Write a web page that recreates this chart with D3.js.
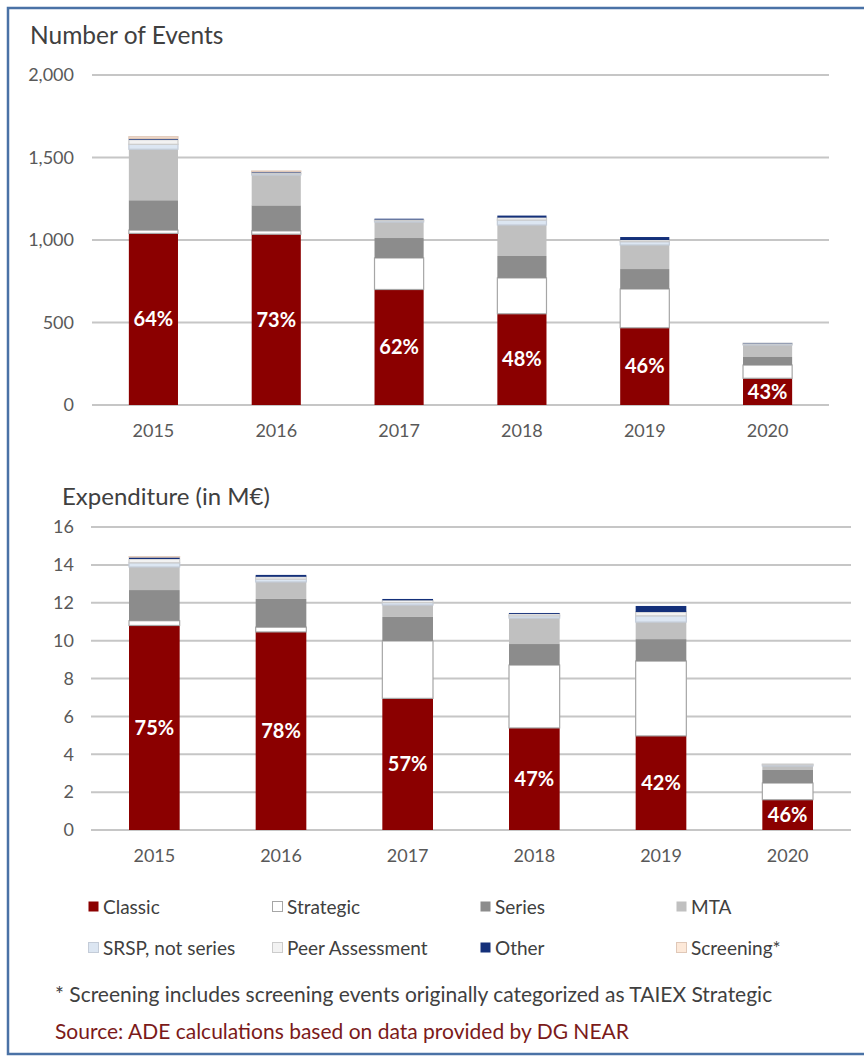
<!DOCTYPE html>
<html>
<head>
<meta charset="utf-8">
<script src="https://cdn.jsdelivr.net/npm/d3@7/dist/d3.min.js"></script>
<style>
    body { margin: 0; background: #fff; }
    svg text { font-family: Lato, "Open Sans", sans-serif; }
</style>
</head>
<body>
<svg id="chart" width="864" height="1059"></svg>
<script>
'use strict';

var years = ['2015', '2016', '2017', '2018', '2019', '2020'];
var seriesNames = ['Classic', 'Strategic', 'Series', 'MTA', 'SRSP, not series', 'Peer Assessment', 'Other', 'Screening*'];

// number of events per category
var evClassic   = [1040, 1035, 700, 553, 468, 162];
var evStrategic = [20, 20, 191, 217, 235, 80];
var evSeries    = [181, 155, 121, 133, 121, 49];
var evMta       = [309, 184, 97, 188, 146, 73];
var evSrsp      = [30, 8, 8, 30, 20, 6];
var evPeer      = [28, 7, 7, 15, 10, 4];
var evOther     = [8, 6, 5, 12, 18, 2];
var evScreening = [10, 3, 0, 0, 0, 0];

// expenditure in M€
var exClassic   = [10.8, 10.46, 6.95, 5.39, 4.97, 1.6];
var exStrategic = [0.25, 0.25, 3.03, 3.32, 3.95, 0.88];
var exSeries    = [1.62, 1.49, 1.27, 1.11, 1.16, 0.69];
var exMta       = [1.22, 0.9, 0.63, 1.37, 0.9, 0.21];
var exSrsp      = [0.22, 0.15, 0.13, 0.12, 0.33, 0.06];
var exPeer      = [0.2, 0.12, 0.12, 0.1, 0.2, 0.04];
var exOther     = [0.1, 0.1, 0.07, 0.05, 0.32, 0];
var exScreening = [0.02, 0, 0, 0, 0, 0];

var evTicks = [0, 500, 1000, 1500, 2000];
var exTicks = [0, 2, 4, 6, 8, 10, 12, 14, 16];

var colors = ['#8b0000', '#ffffff', '#8c8c8c', '#c0c0c0', '#dce6f2', '#f2f2f2', '#14307a', '#fde9d9'];
var strokes = [null, '#a6a6a6', null, null, '#c4ccd8', '#cccccc', null, '#e0c8b8'];

var svg = d3.select('#chart');

function buildRows(cols) {
    var rows = [];
    var i;
    var j;
    for (i = 0; i < years.length; i++) {
        var row = {year: years[i]};
        for (j = 0; j < seriesNames.length; j++) {
            row[seriesNames[j]] = cols[j][i];
        }
        rows.push(row);
    }
    return rows;
}

function drawPanel(opts) {
    var rows = buildRows(opts.cols);
    var stack = d3.stack().keys(seriesNames)(rows);

    var x = d3.scaleBand()
        .domain(years)
        .range([opts.x0, opts.x1])
        .paddingInner(0.6)
        .paddingOuter(0.3);

    var y = d3.scaleLinear()
        .domain([0, opts.max])
        .range([opts.yBottom, opts.yTop]);

    var g = svg.append('g');

    g.append('text')
        .attr('x', opts.titleX)
        .attr('y', opts.titleY)
        .attr('font-size', opts.titleSize)
        .attr('fill', '#404040')
        .text(opts.title);

    // gridlines
    g.selectAll('line.grid')
        .data(opts.ticks)
        .enter()
        .append('line')
        .attr('class', 'grid')
        .attr('x1', opts.x0)
        .attr('x2', opts.x1)
        .attr('y1', function (d) { return y(d); })
        .attr('y2', function (d) { return y(d); })
        .attr('stroke', '#c6c6c6')
        .attr('stroke-width', 2);

    var yAxis = d3.axisLeft(y)
        .tickValues(opts.ticks)
        .tickFormat(opts.fmt)
        .tickSize(0)
        .tickPadding(0);

    g.append('g')
        .attr('transform', 'translate(74,0)')
        .call(yAxis)
        .call(function (a) {
            a.select('.domain').remove();
            a.selectAll('text')
                .attr('font-size', 18)
                .attr('fill', '#595959')
                .style('font-family', 'Lato, sans-serif');
        });

    var xAxis = d3.axisBottom(x).tickSize(0).tickPadding(0);

    g.append('g')
        .attr('transform', 'translate(0,' + (opts.yBottom + 19) + ')')
        .call(xAxis)
        .call(function (a) {
            a.select('.domain').remove();
            a.selectAll('text')
                .attr('font-size', 18)
                .attr('fill', '#595959')
                .style('font-family', 'Lato, sans-serif');
        });

    g.selectAll('g.layer')
        .data(stack)
        .enter()
        .append('g')
        .attr('class', 'layer')
        .each(function (layer, k) {
            d3.select(this).selectAll('rect')
                .data(layer.filter(function (d) { return d[1] - d[0] > 0; }))
                .enter()
                .append('rect')
                .attr('x', function (d) { return x(d.data.year); })
                .attr('width', x.bandwidth())
                .attr('y', function (d) { return y(d[1]); })
                .attr('height', function (d) { return y(d[0]) - y(d[1]); })
                .attr('fill', colors[k])
                .attr('stroke', strokes[k] || 'none')
                .attr('stroke-width', strokes[k] ? 1.2 : 0);
        });

    // share of classic
    g.selectAll('text.pct')
        .data(rows)
        .enter()
        .append('text')
        .attr('class', 'pct')
        .attr('x', function (d) { return x(d.year) + x.bandwidth() / 2; })
        .attr('y', function (d) { return y(d.Classic / 2); })
        .attr('dy', '0.35em')
        .attr('text-anchor', 'middle')
        .attr('font-size', 20)
        .attr('font-weight', 'bold')
        .attr('fill', '#ffffff')
        .text(function (d) {
            var total = d3.sum(seriesNames, function (s) { return d[s]; });
            return Math.round(d.Classic / total * 100) + '%';
        });
}

// outer frame
svg.append('rect')
    .attr('x', 8)
    .attr('y', 8)
    .attr('width', 880)
    .attr('height', 1046)
    .attr('fill', 'none')
    .attr('stroke', '#4a72a6')
    .attr('stroke-width', 2.5);

drawPanel({
    title: 'Number of Events',
    titleX: 30, titleY: 44, titleSize: 24.5,
    cols: [evClassic, evStrategic, evSeries, evMta, evSrsp, evPeer, evOther, evScreening],
    max: 2000, ticks: evTicks, fmt: d3.format(','),
    x0: 92, x1: 829, yTop: 75, yBottom: 405
});

drawPanel({
    title: 'Expenditure (in M€)',
    titleX: 62, titleY: 505, titleSize: 24,
    cols: [exClassic, exStrategic, exSeries, exMta, exSrsp, exPeer, exOther, exScreening],
    max: 16, ticks: exTicks, fmt: d3.format('d'),
    x0: 91, x1: 851, yTop: 527, yBottom: 830
});

// legend
var legendX = [88, 272, 480, 676];
var legendY = [907, 948];

var legend = svg.append('g')
    .selectAll('g')
    .data(seriesNames)
    .enter()
    .append('g')
    .attr('transform', function (d, i) {
        return 'translate(' + legendX[i % 4] + ',' + legendY[Math.floor(i / 4)] + ')';
    });

legend.append('rect')
    .attr('x', 0.5)
    .attr('y', -5.5)
    .attr('width', 10)
    .attr('height', 10)
    .attr('fill', function (d, i) { return colors[i]; })
    .attr('stroke', function (d, i) { return strokes[i] || 'none'; });

legend.append('text')
    .attr('x', 15)
    .attr('dy', '0.35em')
    .attr('font-size', 19)
    .attr('fill', '#404040')
    .text(function (d) { return d; });

svg.append('text')
    .attr('x', 55)
    .attr('y', 1002)
    .attr('font-size', 21)
    .attr('fill', '#404040')
    .text('* Screening includes screening events originally categorized as TAIEX Strategic');

svg.append('text')
    .attr('x', 55)
    .attr('y', 1039)
    .attr('font-size', 21)
    .attr('fill', '#7b1a1a')
    .text('Source: ADE calculations based on data provided by DG NEAR');
</script>
</body>
</html>
